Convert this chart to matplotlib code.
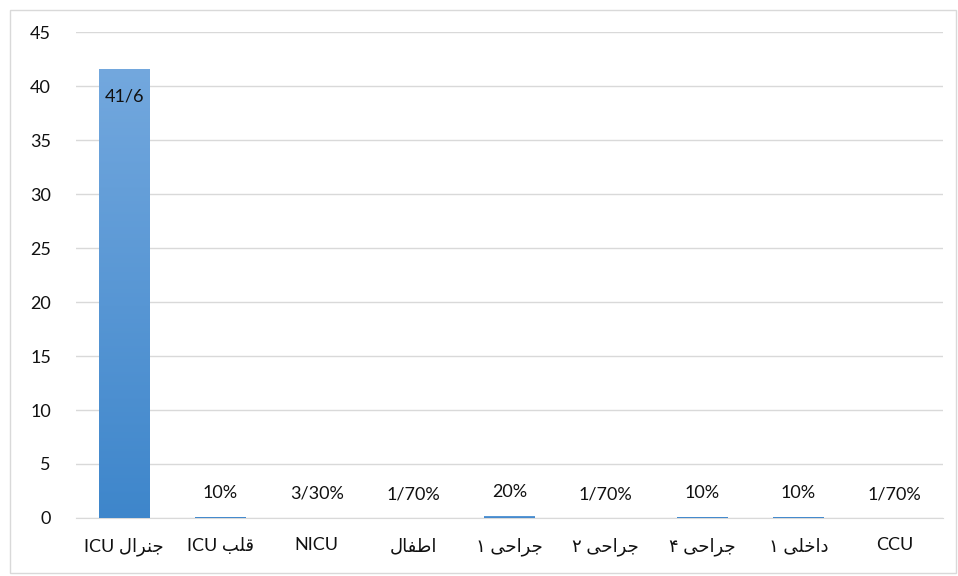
import numpy as np
import matplotlib.pyplot as plt
from matplotlib.colors import LinearSegmentedColormap
from matplotlib.patches import Rectangle

plt.rcParams['font.family'] = ['Lato', 'DejaVu Sans']

##Minimal Persian shaping (matplotlib draws text left-to-right, no joining)
FORMS = {
    'ا': ('\uFE8D', '\uFE8E', None, None),
    'ب': ('\uFE8F', '\uFE90', '\uFE91', '\uFE92'),
    'ج': ('\uFE9D', '\uFE9E', '\uFE9F', '\uFEA0'),
    'ح': ('\uFEA1', '\uFEA2', '\uFEA3', '\uFEA4'),
    'خ': ('\uFEA5', '\uFEA6', '\uFEA7', '\uFEA8'),
    'د': ('\uFEA9', '\uFEAA', None, None),
    'ر': ('\uFEAD', '\uFEAE', None, None),
    'ط': ('\uFEC1', '\uFEC2', '\uFEC3', '\uFEC4'),
    'ف': ('\uFED1', '\uFED2', '\uFED3', '\uFED4'),
    'ق': ('\uFED5', '\uFED6', '\uFED7', '\uFED8'),
    'ل': ('\uFEDD', '\uFEDE', '\uFEDF', '\uFEE0'),
    'ن': ('\uFEE5', '\uFEE6', '\uFEE7', '\uFEE8'),
    'ی': ('\uFEEF', '\uFEF0', '\uFBFE', '\uFBFF'),
}

def fa(s):
    out = []
    for i, c in enumerate(s):
        if c not in FORMS:
            out.append(c)
            continue
        prev = s[i-1] if i > 0 else ''
        nxt = s[i+1] if i < len(s)-1 else ''
        jp = prev in FORMS and FORMS[prev][2] is not None
        jn = nxt in FORMS and FORMS[c][2] is not None
        iso, fin, ini, med = FORMS[c]
        out.append(med if jp and jn else fin if jp else ini if jn else iso)
    return ''.join(out)[::-1]

##Data
categories = ['ICU ' + fa('جنرال'), 'ICU ' + fa('قلب'), 'NICU', fa('اطفال'),
              fa('جراحی ۱'), fa('جراحی ۲'), fa('جراحی ۴'), fa('داخلی ۱'), 'CCU']
values = [41.6, 0.1, 0.033, 0.017, 0.2, 0.017, 0.1, 0.1, 0.017]
value_labels = ['41/6', '10%', '3/30%', '1/70%', '20%', '1/70%', '10%', '10%', '1/70%']

##Figure
fig = plt.figure(figsize=(9.58, 5.76), dpi=100)
ax = fig.add_axes([0.0793, 0.1007, 0.905, 0.8437])
fig.patches.append(Rectangle((10/958, 3/576), 946/958, 563/576, transform=fig.transFigure,
                             fill=False, edgecolor='#d9d9d9', linewidth=1))

x = np.arange(len(categories))
bars = ax.bar(x, values, width=0.52, color='#5b9bd5', zorder=2)

cmap = LinearSegmentedColormap.from_list('grad', ['#3e86cb', '#73a8de'])
grad = np.linspace(0, 1, 256).reshape(-1, 1)
for b in bars:
    x0, w, h = b.get_x(), b.get_width(), b.get_height()
    im = ax.imshow(grad, cmap=cmap, origin='lower', aspect='auto',
                   extent=[x0, x0 + w, 0, max(h, 0.2)], zorder=3)
    im.set_clip_path(b)

for i, (v, lab) in enumerate(zip(values, value_labels)):
    if v > 10:
        ax.text(i, v - 2.6, lab, ha='center', va='center', fontsize=13, color='#111111', zorder=4)
    else:
        ax.text(i, v + 2.2, lab, ha='center', va='center', fontsize=13, color='#111111', zorder=4)

ax.set_xlim(-0.5, len(categories) - 0.5)
ax.set_ylim(0, 45)
ax.set_yticks(np.arange(0, 46, 5))
ax.set_xticks(x)
ax.set_xticklabels(categories, fontsize=13, color='#111111')
ax.tick_params(axis='y', labelsize=13, labelcolor='#111111', length=0, pad=18)
ax.tick_params(axis='x', length=0, pad=14)
ax.grid(axis='y', color='#d9d9d9', linewidth=1, zorder=0)
ax.set_axisbelow(True)
for side in ['top', 'right', 'left']:
    ax.spines[side].set_visible(False)
ax.spines['bottom'].set_color('#d9d9d9')

fig.savefig('out.png', dpi=100)
